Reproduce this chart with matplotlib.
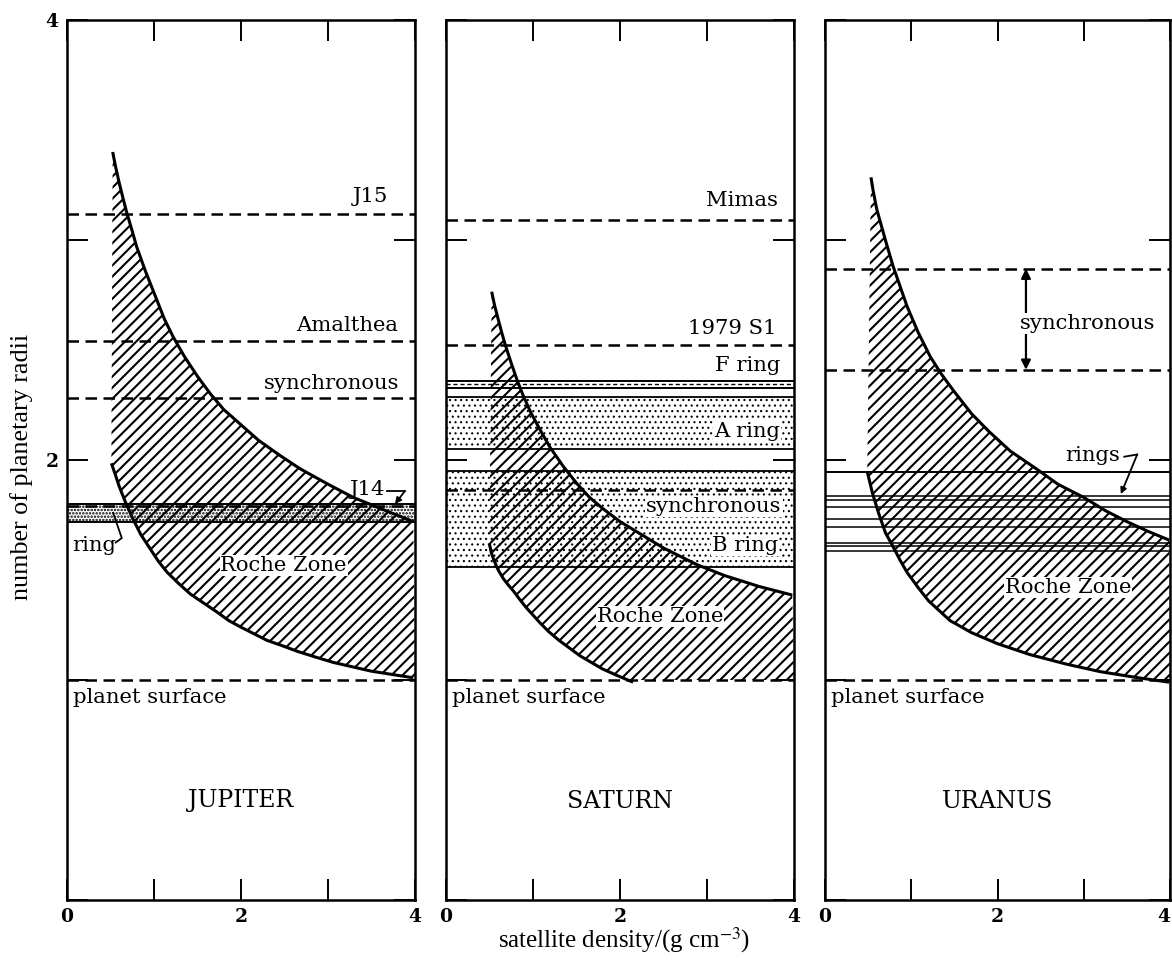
import matplotlib
matplotlib.use('Agg')
import matplotlib.pyplot as plt
import numpy as np

plt.rcParams['hatch.linewidth'] = 1.5
plt.rcParams['font.family'] = ['DejaVu Serif']
plt.rcParams['mathtext.fontset'] = 'stix'

# ---------------- data ----------------
x_ticks = [0, 1, 2, 3, 4]
x_ticklabels = ['0', '', '2', '', '4']
y_ticks = [0, 1, 2, 3, 4]
y_ticklabels = ['', '', '2', '', '4']
planet_names = ['JUPITER', 'SATURN', 'URANUS']
surface_r = 1.0

# Jupiter
jup_upper_x = [0.525, 0.56, 0.60, 0.65, 0.69, 0.75, 0.80, 0.90, 1.03, 1.12, 1.22, 1.35,
               1.50, 1.65, 1.80, 2.00, 2.20, 2.45, 2.68, 3.00, 3.29, 3.60, 3.98]
jup_upper_y = [3.40, 3.33, 3.26, 3.18, 3.12, 3.04, 2.97, 2.86, 2.73, 2.64, 2.56, 2.47,
               2.38, 2.30, 2.23, 2.16, 2.09, 2.02, 1.96, 1.89, 1.83, 1.78, 1.72]
jup_lower_x = [0.51, 0.55, 0.60, 0.67, 0.76, 0.85, 0.95, 1.05, 1.15, 1.28, 1.42, 1.57, 1.72,
               1.86, 2.00, 2.15, 2.30, 2.48, 2.65, 2.85, 3.06, 3.28, 3.50, 3.74, 3.98]
jup_lower_y = [1.985, 1.94, 1.88, 1.81, 1.73, 1.66, 1.60, 1.54, 1.49, 1.44, 1.39, 1.35, 1.31,
               1.27, 1.24, 1.21, 1.18, 1.155, 1.13, 1.105, 1.08, 1.06, 1.04, 1.025, 1.01]
jup_dashed = {'J15': 3.12, 'Amalthea': 2.54, 'synchronous': 2.28, 'J14': 1.79}
jup_ring = (1.72, 1.80)

# Saturn
sat_upper_x = [0.525, 0.56, 0.60, 0.64, 0.68, 0.75, 0.82, 0.89, 0.97, 1.05, 1.12, 1.20,
               1.35, 1.50, 1.65, 1.80, 2.00, 2.23, 2.50, 2.88, 3.20, 3.60, 3.98]
sat_upper_y = [2.765, 2.70, 2.64, 2.58, 2.525, 2.44, 2.36, 2.29, 2.22, 2.16, 2.11, 2.055,
               1.97, 1.895, 1.83, 1.78, 1.72, 1.665, 1.60, 1.525, 1.475, 1.425, 1.386]
sat_lower_x = [0.498, 0.52, 0.55, 0.60, 0.66, 0.72, 0.774, 0.85, 0.92, 1.00, 1.08, 1.18,
               1.30, 1.42, 1.54, 1.67, 1.80, 1.97, 2.15]
sat_lower_y = [1.621, 1.58, 1.545, 1.50, 1.46, 1.43, 1.405, 1.365, 1.33, 1.295, 1.26, 1.22,
               1.18, 1.145, 1.11, 1.08, 1.05, 1.02, 0.99]
sat_dashed = {'Mimas': 3.09, '1979 S1': 2.525, 'synchronous': 1.864}
sat_F_ring = (2.327, 2.36)
sat_A_ring = (2.048, 2.285)
sat_B_ring = (1.515, 1.95)

# Uranus
ura_upper_x = [0.533, 0.56, 0.60, 0.65, 0.70, 0.79, 0.87, 0.95, 1.08, 1.22, 1.35, 1.50,
               1.70, 1.90, 2.15, 2.45, 2.70, 3.00, 3.25, 3.50, 3.75, 3.99]
ura_upper_y = [3.285, 3.22, 3.14, 3.07, 3.00, 2.88, 2.79, 2.70, 2.58, 2.47, 2.39, 2.31,
               2.21, 2.13, 2.04, 1.96, 1.89, 1.83, 1.77, 1.72, 1.675, 1.636]
ura_lower_x = [0.49, 0.55, 0.62, 0.70, 0.77, 0.87, 0.95, 1.08, 1.20, 1.45, 1.70, 2.00,
               2.38, 2.80, 3.19, 3.60, 3.99]
ura_lower_y = [1.947, 1.85, 1.76, 1.67, 1.62, 1.545, 1.49, 1.42, 1.36, 1.27, 1.215, 1.165,
               1.115, 1.072, 1.038, 1.012, 0.99]
ura_sync = (2.41, 2.87)
ura_rings = [1.945, 1.835, 1.818, 1.787, 1.734, 1.696, 1.621, 1.607, 1.588]

# ---------------- styling ----------------
W, H = 1172, 960
fig = plt.figure(figsize=(W / 100, H / 100), dpi=100)
lefts = [67, 446, 825]
widths = [348, 348, 345]
bottom_px, top_px = 900, 20

DASH = (0, (4.6, 2.6))
LBL = 15.2


def setup(ax, first, last):
    ax.set_xlim(0, 4)
    ax.set_ylim(0, 4)
    for s in ax.spines.values():
        s.set_linewidth(1.8)
    ax.set_xticks(x_ticks)
    ax.set_xticklabels(x_ticklabels)
    ax.set_yticks(y_ticks)
    ax.set_yticklabels(y_ticklabels if first else [])
    ax.tick_params(direction='in', length=15, width=1.4, top=True, right=True,
                   labelsize=13.5, pad=6)
    for t in ax.get_xticklabels() + ax.get_yticklabels():
        t.set_fontweight('bold')
    if last:
        ax.get_xticklabels()[-1].set_horizontalalignment('right')


def hatch_lw(p, w):
    if hasattr(p, 'set_hatch_linewidth'):
        p.set_hatch_linewidth(w)


def roche(ax, ux, uy, lx, ly, floor=None):
    ux, uy, lx, ly = map(np.asarray, (ux, uy, lx, ly))
    if floor is None:
        px = np.concatenate([ux, [4.0], lx[::-1]])
        py = np.concatenate([uy, [ly[-1]], ly[::-1]])
    else:
        px = np.concatenate([ux, [4.0, lx[-1]], lx[::-1]])
        py = np.concatenate([uy, [floor, floor], ly[::-1]])
    ax.fill(px, py, facecolor='none', edgecolor='k', hatch='///', linewidth=0, zorder=2)
    ax.plot(ux, uy, color='k', lw=2.2, zorder=4, solid_capstyle='butt', solid_joinstyle='round')
    ax.plot(lx, ly, color='k', lw=2.2, zorder=4, solid_capstyle='butt', solid_joinstyle='round')


def dashed(ax, y, lw=1.8):
    ax.axhline(y, color='k', lw=lw, ls=DASH, zorder=3)


def band(ax, lo, hi, hatch='...', lw=1.3, hlw=0.9):
    p = ax.axhspan(lo, hi, facecolor='white', edgecolor='k', hatch=hatch, linewidth=0, zorder=1)
    hatch_lw(p, hlw)
    ax.axhline(lo, color='k', lw=lw, zorder=3)
    ax.axhline(hi, color='k', lw=lw, zorder=3)


def label(ax, x, y, s, ha='right', bg=False):
    kw = {}
    if bg:
        kw['bbox'] = dict(facecolor='white', edgecolor='none', pad=0.6)
    ax.text(x, y, s, ha=ha, va='center', fontsize=LBL, zorder=6, **kw)


axes = []
for i in range(3):
    ax = fig.add_axes([lefts[i] / W, (H - bottom_px) / H, widths[i] / W, (bottom_px - top_px) / H])
    setup(ax, i == 0, i == 2)
    dashed(ax, surface_r)
    label(ax, 0.07, 0.92, 'planet surface', ha='left')
    ax.text(2.0, 0.45, planet_names[i], ha='center', va='center', fontsize=17)
    axes.append(ax)

# Jupiter
ax = axes[0]
band(ax, jup_ring[0], jup_ring[1], hatch='.....', lw=1.4, hlw=1.2)
for name, y in jup_dashed.items():
    dashed(ax, y)
roche(ax, jup_upper_x, jup_upper_y, jup_lower_x, jup_lower_y)
label(ax, 3.69, jup_dashed['J15'] + 0.08, 'J15')
label(ax, 3.81, jup_dashed['Amalthea'] + 0.07, 'Amalthea')
label(ax, 3.82, jup_dashed['synchronous'] + 0.07, 'synchronous')
label(ax, 3.66, 1.865, 'J14')
ax.plot([3.68, 3.88], [1.857, 1.857], color='k', lw=1.3, zorder=6)
ax.annotate('', xy=(3.77, 1.80), xytext=(3.88, 1.857),
            arrowprops=dict(arrowstyle='-|>', lw=1.3, color='k', mutation_scale=9,
                            shrinkA=0, shrinkB=0), zorder=6)
label(ax, 0.06, 1.61, 'ring', ha='left')
ax.plot([0.56, 0.63, 0.53], [1.625, 1.645, 1.76], color='k', lw=1.3, zorder=6)
label(ax, 2.49, 1.52, 'Roche Zone', ha='center', bg=True)

# Saturn
ax = axes[1]
band(ax, sat_A_ring[0], sat_A_ring[1], hatch='...', hlw=0.8)
band(ax, sat_B_ring[0], sat_B_ring[1], hatch='...', hlw=0.8)
ax.axhline(sat_F_ring[0], color='k', lw=1.4, zorder=3)
ax.axhline(sat_F_ring[1], color='k', lw=1.4, zorder=3)
ax.axhline(np.mean(sat_F_ring), color='k', lw=1.0, ls=(0, (3, 2)), zorder=3)
for name, y in sat_dashed.items():
    dashed(ax, y)
roche(ax, sat_upper_x, sat_upper_y, sat_lower_x, sat_lower_y, floor=surface_r)
label(ax, 3.82, sat_dashed['Mimas'] + 0.09, 'Mimas')
label(ax, 3.80, sat_dashed['1979 S1'] + 0.075, '1979 S1')
label(ax, 3.84, 2.43, 'F ring')
label(ax, 3.84, 2.13, 'A ring', bg=True)
label(ax, 3.86, 1.79, 'synchronous', bg=True)
label(ax, 3.82, 1.61, 'B ring', bg=True)
label(ax, 2.46, 1.29, 'Roche Zone', ha='center', bg=True)

# Uranus
ax = axes[2]
for j, y in enumerate(ura_rings):
    ax.axhline(y, color='k', lw=1.4 if j == 0 else 1.1, zorder=3)
for y in ura_sync:
    dashed(ax, y)
roche(ax, ura_upper_x, ura_upper_y, ura_lower_x, ura_lower_y)
ax.annotate('', xy=(2.33, ura_sync[1]), xytext=(2.33, ura_sync[0]),
            arrowprops=dict(arrowstyle='<|-|>', lw=1.6, color='k', mutation_scale=14,
                            shrinkA=0, shrinkB=0), zorder=5)
label(ax, 3.05, 2.62, 'synchronous', ha='center', bg=True)
label(ax, 3.10, 2.02, 'rings', ha='center')
ax.plot([3.47, 3.62], [2.015, 2.025], color='k', lw=1.3, zorder=6)
ax.annotate('', xy=(3.43, 1.845), xytext=(3.62, 2.025),
            arrowprops=dict(arrowstyle='-|>', lw=1.3, color='k', mutation_scale=9,
                            shrinkA=0, shrinkB=0), zorder=6)
label(ax, 2.82, 1.42, 'Roche Zone', ha='center', bg=True)

fig.text(22 / W, 1 - 467 / H, 'number of planetary radii', rotation=90,
         ha='center', va='center', fontsize=18.8, family='Liberation Serif')
fig.text(624 / W, 1 - 940 / H, 'satellite density/(g cm$^{-3}$)',
         ha='center', va='center', fontsize=18, family='Liberation Serif')

fig.savefig('out.png', dpi=100)
